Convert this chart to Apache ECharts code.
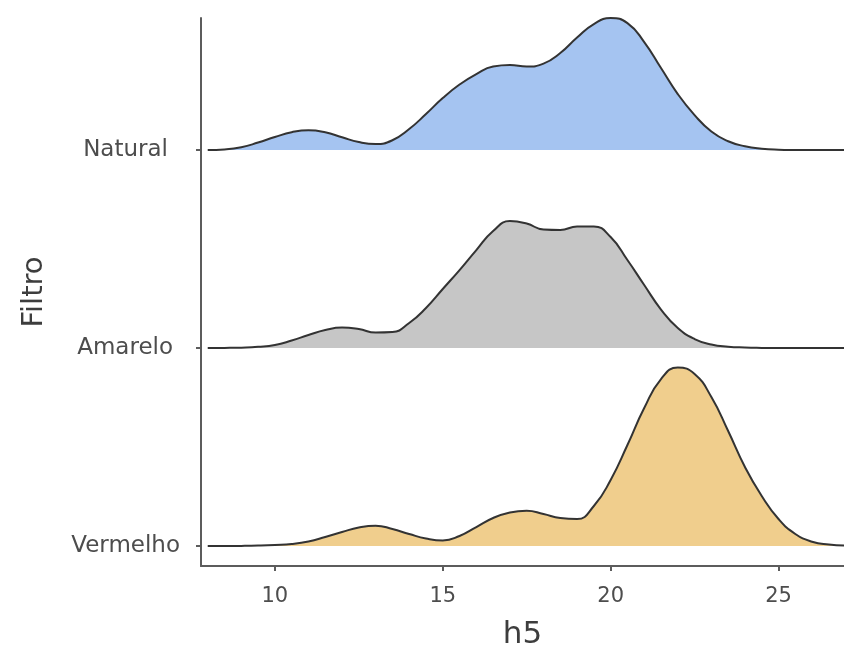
<!DOCTYPE html>
<html>
<head>
<meta charset="utf-8">
<script src="https://cdn.jsdelivr.net/npm/echarts@6/dist/echarts.min.js"></script>
<style>
  html, body { margin: 0; padding: 0; background: #ffffff; }
  #chart { width: 844px; height: 655px; }
</style>
</head>
<body>
<div id="chart"></div>
<script>
// ---- data ----
const categories = ["Vermelho", "Amarelo", "Natural"];
const xValues = [8, 8.5, 9, 9.5, 10, 10.5, 11, 11.5, 12, 12.5,
                 13, 13.5, 14, 14.5, 15, 15.5, 16, 16.5, 17, 17.5,
                 18, 18.5, 19, 19.5, 20, 20.5, 21, 21.5, 22, 22.5,
                 23, 23.5, 24, 24.5, 25, 25.5, 26, 26.5, 27];
const naturalDensity = [0, 0.0006, 0.0028, 0.0075, 0.013, 0.0178, 0.0198, 0.0178, 0.0128, 0.008,
                        0.006, 0.0098, 0.021, 0.036, 0.052, 0.0655, 0.076, 0.0835, 0.085, 0.0835,
                        0.0865, 0.097, 0.1125, 0.126, 0.132, 0.127, 0.108, 0.082, 0.056, 0.035,
                        0.0185, 0.0088, 0.0038, 0.0014, 0.0004, 0.0001, 0, 0, 0];
const amareloDensity = [0, 0.0001, 0.0004, 0.0012, 0.003, 0.0075, 0.013, 0.018, 0.0205, 0.019,
                        0.0155, 0.016, 0.025, 0.040, 0.059, 0.078, 0.098, 0.117, 0.127, 0.1245,
                        0.1185, 0.118, 0.1215, 0.1215, 0.111, 0.088, 0.063, 0.0385, 0.020, 0.009,
                        0.0035, 0.0013, 0.0005, 0.00015, 0, 0, 0, 0, 0];
const vermelhoDensity = [0, 0, 0.0001, 0.0004, 0.001, 0.002, 0.0045, 0.009, 0.014, 0.0185,
                         0.0203, 0.017, 0.012, 0.0075, 0.0055, 0.010, 0.019, 0.028, 0.0335, 0.0353,
                         0.032, 0.028, 0.027, 0.040, 0.066, 0.101, 0.138, 0.167, 0.1785, 0.172,
                         0.149, 0.115, 0.079, 0.050, 0.027, 0.012, 0.0043, 0.0015, 0.0005];
const xTicks = [10, 15, 20, 25];
const xTitle = "h5";
const yTitle = "Filtro";

// ---- presentation ----
const ridgeScale = 1 / 0.198;   // rows per density unit
const fills = { Natural: "#a5c4f1", Amarelo: "#c6c6c6", Vermelho: "#f0ce8d" };
const densities = { Natural: naturalDensity, Amarelo: amareloDensity, Vermelho: vermelhoDensity };
const font = "DejaVu Sans";
const axisColor = "#5c5c5c";
const textColor = "#4d4d4d";

// draw top row first so lower rows overlap it
const drawOrder = ["Natural", "Amarelo", "Vermelho"];
const series = drawOrder.map(name => {
  const base = categories.indexOf(name);
  const d = densities[name];
  return {
    type: "line",
    name: name,
    data: xValues.map((x, i) => [x, base + d[i] * ridgeScale]),
    smooth: 0.5,
    symbol: "none",
    lineStyle: { color: "#333333", width: 2 },
    areaStyle: { color: fills[name], opacity: 1, origin: base },
    silent: true
  };
});

const chart = echarts.init(document.getElementById("chart"), null, { renderer: "canvas" });
chart.setOption({
  animation: false,
  backgroundColor: "#ffffff",
  grid: { left: 201, right: 0, top: 18, bottom: 89 },
  xAxis: {
    type: "value",
    min: 7.8,
    max: 26.95,
    name: xTitle,
    nameLocation: "middle",
    nameGap: 53,
    nameTextStyle: { fontFamily: font, fontSize: 31, color: "#3d3d3d" },
    axisLine: { show: true, onZero: false, lineStyle: { color: axisColor, width: 2 } },
    axisTick: { show: true, length: 5, customValues: xTicks, lineStyle: { color: axisColor, width: 2 } },
    axisLabel: { customValues: xTicks, fontFamily: font, fontSize: 21, color: textColor, margin: 20 },
    splitLine: { show: false }
  },
  yAxis: {
    type: "value",
    min: -0.101,
    max: 2.667,
    name: yTitle,
    nameLocation: "middle",
    nameGap: 152,
    nameRotate: 90,
    nameTextStyle: { fontFamily: font, fontSize: 29, color: "#3d3d3d" },
    axisLine: { show: true, onZero: false, lineStyle: { color: axisColor, width: 2 } },
    axisTick: { show: true, length: 5, customValues: [0, 1, 2], lineStyle: { color: axisColor, width: 2 } },
    axisLabel: {
      customValues: [0, 1, 2],
      margin: 21,
      fontFamily: font,
      fontSize: 23,
      color: textColor,
      formatter: v => {
        const name = categories[Math.round(v)];
        return "{" + name + "|" + name + "}";
      },
      rich: {
        Natural: { fontFamily: font, fontSize: 23, color: textColor, padding: [0, 12, 0, 0] },
        Amarelo: { fontFamily: font, fontSize: 23, color: textColor, padding: [0, 7, 0, 0] },
        Vermelho: { fontFamily: font, fontSize: 23, color: textColor, padding: [0, 0, 0, 0] }
      }
    },
    splitLine: { show: false }
  },
  series: series
});
</script>
</body>
</html>
